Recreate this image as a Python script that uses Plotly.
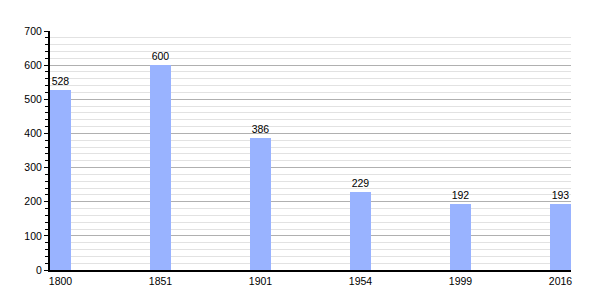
import plotly.graph_objects as go

years = ["1800", "1851", "1901", "1954", "1999", "2016"]
population = [528, 600, 386, 229, 192, 193]
y_ticks = [0, 100, 200, 300, 400, 500, 600, 700]

fig = go.Figure()
fig.add_trace(go.Bar(
    x=years, y=population, width=0.21,
    marker=dict(color="#99b3ff", line=dict(width=0)),
    text=[str(v) for v in population], textposition="outside",
    textfont=dict(family="Liberation Sans, Arial", size=10.5, color="black"),
    cliponaxis=False,
))
fig.update_layout(
    width=600, height=300,
    margin=dict(l=50, r=29, t=31, b=30),
    paper_bgcolor="white", plot_bgcolor="white",
    showlegend=False,
    font=dict(family="Liberation Sans, Arial", size=10.5, color="black"),
    bargap=0,
)
fig.update_xaxes(
    type="category", range=[-0.105, 5.105],
    showgrid=False, showline=True, linecolor="black", linewidth=2,
    ticks="", tickfont=dict(size=10.5), zeroline=False,
)
fig.update_yaxes(
    range=[0, 700], tickvals=y_ticks,
    showgrid=True, gridcolor="#b0b0b0", gridwidth=1,
    showline=True, linecolor="black", linewidth=2,
    ticks="outside", ticklen=4, tickcolor="black", tickwidth=1,
    tickfont=dict(size=10.5), zeroline=False,
    minor=dict(dtick=20, showgrid=True, gridcolor="#e2e2e2", gridwidth=1,
               ticks="outside", ticklen=3, tickcolor="black", tickwidth=1),
)
fig.write_html("out.html")
